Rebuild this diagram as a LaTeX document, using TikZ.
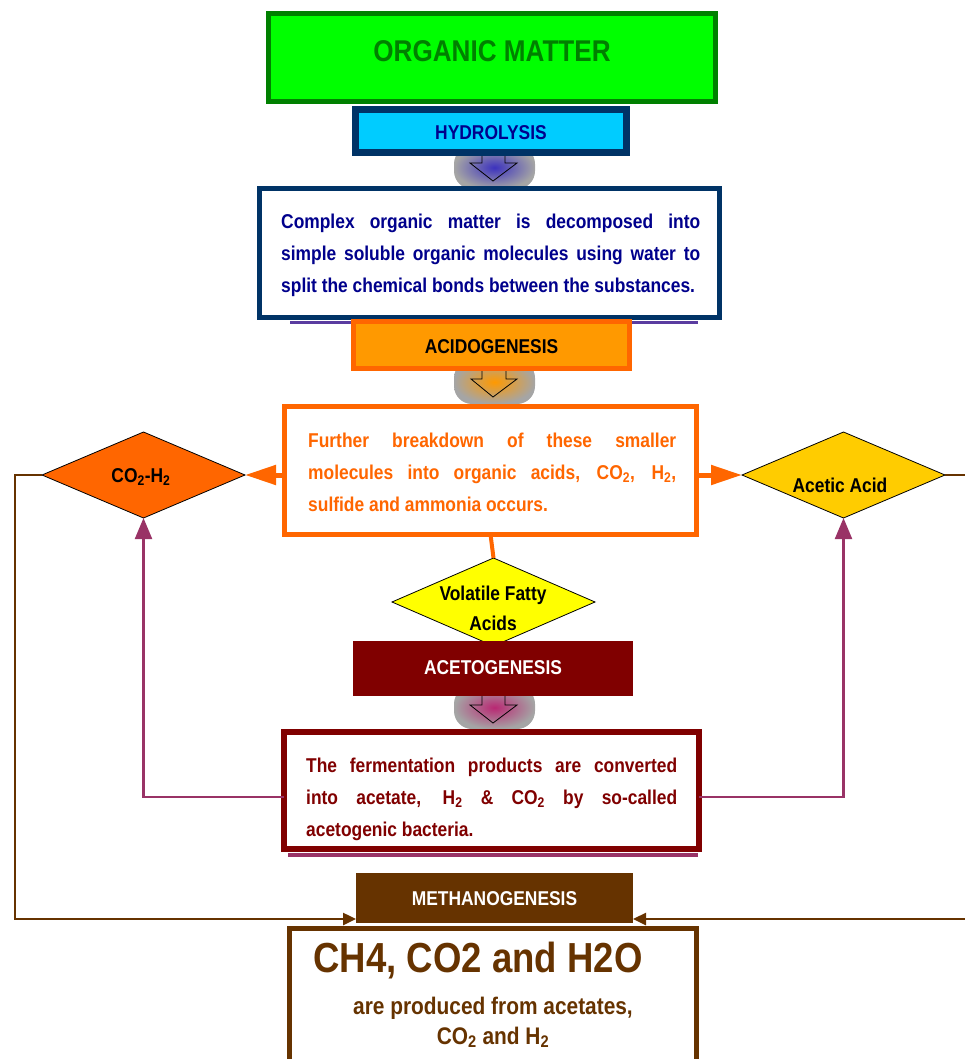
\documentclass[tikz,border=0pt]{standalone}
\usepackage{fontspec}
\newfontfamily\nar{Liberation Sans Bold}[FakeStretch=0.87]
\usetikzlibrary{shapes.geometric,arrows.meta}
\definecolor{lgreen}{RGB}{0,255,0}
\definecolor{dgreen}{RGB}{0,128,0}
\definecolor{lcyan}{RGB}{0,204,255}
\definecolor{navyb}{RGB}{0,51,102}
\definecolor{navyt}{RGB}{0,0,140}
\definecolor{orf}{RGB}{255,153,0}
\definecolor{orb}{RGB}{255,102,0}
\definecolor{gold}{RGB}{255,204,0}
\definecolor{yel}{RGB}{255,255,0}
\definecolor{dred}{RGB}{128,0,0}
\definecolor{purp}{RGB}{153,51,102}
\definecolor{brn}{RGB}{102,51,0}
\definecolor{blobgray}{RGB}{165,165,165}
\definecolor{blobA}{RGB}{60,50,190}
\definecolor{blobC}{RGB}{185,40,115}
\definecolor{shadowA}{RGB}{90,60,160}
\begin{document}
\begin{tikzpicture}[x=1pt,y=-1pt,
  box/.style={rectangle,inner sep=0pt,outer sep=0pt},
  dia/.style={diamond,inner sep=0pt,outer sep=0pt,draw=black,line width=0.8pt,minimum width=203pt,minimum height=86pt},
  lbl/.style={inner sep=0pt,font=\nar\fontsize{20}{24}\selectfont},
  para/.style={inner sep=0pt,align=left,anchor=base west,font=\nar\fontsize{20}{32}\selectfont},
  blobarrow/.style={draw=black,line width=0.8pt,line join=miter},
  orarrow/.style={draw=orb,line width=5pt,-{Triangle[length=31pt,width=19pt]}},
  purarrow/.style={draw=purp,line width=2.2pt,-{Triangle[length=21pt,width=17pt]}},
  brarrow/.style={draw=brn,line width=2.5pt,-{Triangle[length=13pt,width=12pt]}}
]
\useasboundingbox (0,0) rectangle (965,1059);

% shaded arrow blobs
\shade[inner color=blobA,outer color=blobgray,rounded corners=18pt] (454,146) rectangle (535,189);
\draw[blobarrow] (482,150) -- (482,163) -- (470,163) -- (493,181) -- (517,163) -- (505,163) -- (505,150);
\shade[inner color=orf,outer color=blobgray,rounded corners=18pt] (454,360) rectangle (535,404);
\draw[blobarrow] (482,365) -- (482,379) -- (471,379) -- (493,397) -- (517,379) -- (506,379) -- (506,365);
\shade[inner color=blobC,outer color=blobgray,rounded corners=18pt] (454,686) rectangle (535,729);
\draw[blobarrow] (482,690) -- (482,705) -- (470,705) -- (493,723) -- (517,705) -- (505,705) -- (505,690);

% top boxes
\node[box,draw=dgreen,fill=lgreen,line width=5pt,minimum width=447pt,minimum height=88pt] (om) at (492,57.5) {};
\node[lbl,text=dgreen,font=\nar\fontsize{30}{34}\selectfont] (omt) at (492,51) {ORGANIC MATTER};
\node[box,draw=navyb,fill=lcyan,line width=7pt,minimum width=271pt,minimum height=43pt] (hyd) at (491,131) {};
\node[lbl,text=navyt] (hydt) at (491,133) {HYDROLYSIS};

% description 1
\draw[shadowA,line width=3pt] (290,322) -- (698,322);
\node[box,draw=navyb,fill=white,line width=5pt,minimum width=460pt,minimum height=129pt] (d1) at (489.5,253) {};
\node[para,text=navyt] (d1t) at (281,292) {\makebox[419pt][s]{Complex organic matter is decomposed into}\\
\makebox[419pt][s]{simple soluble organic molecules using water to}\\
split the chemical bonds between the substances.};

% acidogenesis
\node[box,draw=orb,fill=orf,line width=5pt,minimum width=276pt,minimum height=47pt] (acid) at (491.5,345) {};
\node[lbl,text=black] (acidt) at (491.5,347) {ACIDOGENESIS};

% description 2
\node[box,draw=orb,fill=white,line width=5pt,minimum width=412pt,minimum height=128pt] (d2) at (490.5,470.5) {};
\node[para,text=orb] (d2t) at (308,511) {\makebox[368pt][s]{Further breakdown of these smaller}\\
\makebox[368pt][s]{molecules into organic acids, CO\textsubscript{2}, H\textsubscript{2},}\\
sulfide and ammonia occurs.};

% diamonds
\node[dia,fill=orb] (co2) at (143.5,475) {};
\node[lbl,text=black] (co2t) at (141,477) {CO\textsubscript{2}-H\textsubscript{2}};
\node[dia,fill=gold] (acetic) at (843.5,475) {};
\node[lbl,text=black] (acetict) at (840,485) {Acetic Acid};
\draw[orarrow] ([yshift=-4.5pt]d2.west) -- (co2.east);
\draw[orarrow] ([yshift=-4.5pt]d2.east) -- (acetic.west);

\node[dia,fill=yel,minimum height=88pt] (vfa) at (493.5,602) {};
\draw[orb,line width=4pt] (d2.south) -- (vfa.north);
\node[inner sep=0pt,align=center,anchor=base,font=\nar\fontsize{20}{30}\selectfont] (vfat) at (493,630) {Volatile Fatty\\Acids};

% acetogenesis
\node[box,fill=dred,minimum width=280pt,minimum height=55pt] (aceto) at (493,668.5) {};
\node[lbl,text=white] (acetot) at (493,668) {ACETOGENESIS};

% description 3
\draw[purp,line width=4pt] (288,855) -- (698,855);
\node[box,draw=dred,fill=white,line width=6pt,minimum width=415pt,minimum height=117pt] (d3) at (491.5,790.5) {};
\node[para,text=dred] (d3t) at (306,836) {\makebox[371pt][s]{The fermentation products are converted}\\
\makebox[371pt][s]{into acetate, H\textsubscript{2} \& CO\textsubscript{2} by so-called}\\
acetogenic bacteria.};
\draw[purarrow] ([yshift=-6.5pt]d3.west) -- (143.5,797) -- (co2.south);
\draw[purarrow] ([yshift=-6.5pt]d3.east) -- (843.5,797) -- (acetic.south);

% methanogenesis
\node[box,fill=brn,minimum width=277pt,minimum height=50pt] (meth) at (494.5,898) {};
\node[lbl,text=white] (metht) at (494.5,899) {METHANOGENESIS};
\draw[brarrow] (co2.west) -- (15,475) -- (15,919) -- ([yshift=-21pt]meth.west);
\draw[brarrow] (acetic.east) -- (975,475) -- (975,919) -- ([yshift=-21pt]meth.east);

% final box
\node[box,draw=brn,fill=white,line width=5pt,minimum width=407pt,minimum height=150pt,anchor=north] (d4) at (492.5,928) {};
\node[inner sep=0pt,text=brn,font=\nar\fontsize{42}{46}\selectfont] (d4a) at (478,961) {CH4, CO2 and H2O};
\node[inner sep=0pt,text=brn,anchor=base,font=\nar\fontsize{24}{28}\selectfont] (d4b) at (493,1014) {are produced from acetates,};
\node[inner sep=0pt,text=brn,anchor=base,font=\nar\fontsize{24}{28}\selectfont] (d4c) at (493,1044) {CO\textsubscript{2} and H\textsubscript{2}};
\end{tikzpicture}
\end{document}
